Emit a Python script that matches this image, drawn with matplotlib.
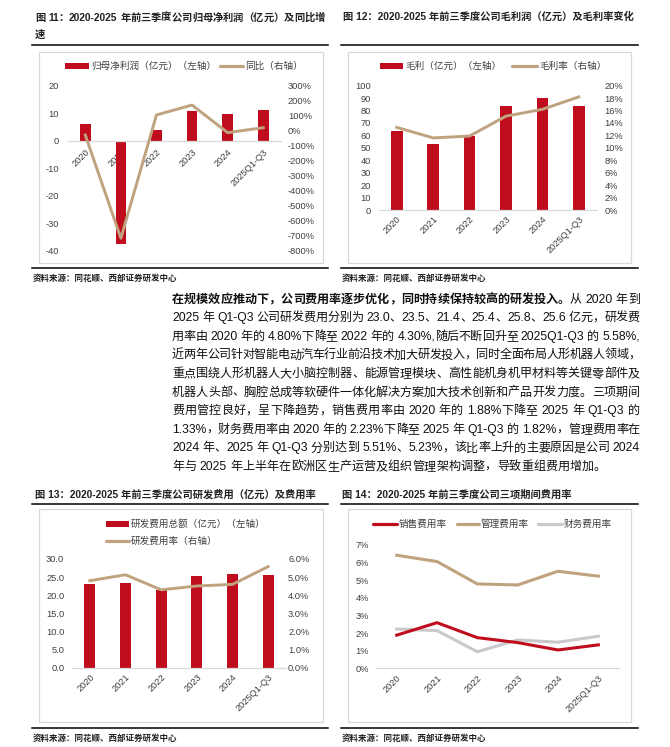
import matplotlib
matplotlib.use("Agg")
import matplotlib.pyplot as plt
from matplotlib.patches import Rectangle

W, H = 670, 747
RED = "#C00D1E"
TAN = "#BFA27E"
LIGHT = "#C9C9C9"
AXIS_GRAY = "#D9D9D9"
TXT = "#404040"
FAM = ["Liberation Sans", "Noto Sans CJK SC"]
TICK_FS = 6.7
LEG_FS = 6.9
TITLE_FS = 7.4

plt.rcParams["font.family"] = FAM

# ---- data ----
years = ["2020", "2021", "2022", "2023", "2024", "2025Q1-Q3"]

net_profit = [6.1, -37.6, 3.9, 10.7, 9.6, 11.0]          # 亿元
net_profit_yoy = [-29, -717, 105, 171, -13, 20]           # %

gross_profit = [63.6, 52.8, 59.3, 83.7, 90.4, 83.7]       # 亿元
gross_margin = [13.3, 11.6, 11.9, 15.1, 16.2, 18.2]       # %

rd_expense = [23.0, 23.5, 21.4, 25.4, 25.8, 25.6]         # 亿元
rd_rate = [4.80, 5.13, 4.30, 4.51, 4.60, 5.58]            # %

sales_rate = [1.88, 2.59, 1.74, 1.46, 1.04, 1.33]         # %
admin_rate = [6.42, 6.06, 4.79, 4.73, 5.51, 5.23]         # %
finance_rate = [2.23, 2.14, 0.94, 1.61, 1.48, 1.82]       # %

PARAGRAPH = [
    [("在规模效应推动下，公司费用率逐步优化，同时持续保持较高的研发投入。", "bold"),
     ("从 2020 年到", "normal")],
    [("2025 年 Q1-Q3 公司研发费用分别为 23.0、23.5、21.4、25.4、25.8、25.6 亿元，研发费", "normal")],
    [("用率由 2020 年的 4.80%下降至 2022 年的 4.30%,随后不断回升至 2025Q1-Q3 的 5.58%,", "normal")],
    [("近两年公司针对智能电动汽车行业前沿技术加大研发投入，同时全面布局人形机器人领域，", "normal")],
    [("重点围绕人形机器人大小脑控制器、能源管理模块、高性能机身机甲材料等关键零部件及", "normal")],
    [("机器人头部、胸腔总成等软硬件一体化解决方案加大技术创新和产品开发力度。三项期间", "normal")],
    [("费用管控良好，呈下降趋势，销售费用率由 2020 年的 1.88%下降至 2025 年 Q1-Q3 的", "normal")],
    [("1.33%，财务费用率由 2020 年的 2.23%下降至 2025 年 Q1-Q3 的 1.82%，管理费用率在", "normal")],
    [("2024 年、2025 年 Q1-Q3 分别达到 5.51%、5.23%，该比率上升的主要原因是公司 2024", "normal")],
    [("年与 2025 年上半年在欧洲区生产运营及组织管理架构调整，导致重组费用增加。", "normal")],
]

SOURCE = "资料来源：同花顺、西部证券研发中心"

fig = plt.figure(figsize=(6.7, 7.47), dpi=100)
fig.patch.set_facecolor("white")
page = fig.add_axes([0, 0, 1, 1])
page.set_xlim(0, W)
page.set_ylim(H, 0)
page.axis("off")
renderer = fig.canvas.get_renderer()


def frac(x0, y0, x1, y1):
    return [x0 / W, 1 - y1 / H, (x1 - x0) / W, (y1 - y0) / H]


def tokenize(segments):
    toks = []
    for text, weight in segments:
        run = ""
        for ch in text:
            if ch == " ":
                if run:
                    toks.append((run, weight))
                    run = ""
                toks.append((" ", weight))
            elif ord(ch) < 128:
                run += ch
            else:
                if run:
                    toks.append((run, weight))
                    run = ""
                toks.append((ch, weight))
        if run:
            toks.append((run, weight))
    return toks


def draw_line(segments, x0, x1, y, fs, color="#111111", justify=True):
    """Draw one line of mixed text, stretched to fill x0..x1 (baseline at y)."""
    toks = tokenize(segments)
    space_w = 0.278 * fs * 100 / 72
    widths = []
    for tok, weight in toks:
        if tok == " ":
            widths.append(space_w)
            continue
        t = page.text(0, 0, tok, fontsize=fs, fontweight=weight)
        widths.append(t.get_window_extent(renderer).width)
        t.remove()
    gap = 0.0
    if justify and len(toks) > 1:
        gap = ((x1 - x0) - sum(widths)) / (len(toks) - 1)
    x = x0
    for (tok, weight), w in zip(toks, widths):
        if tok != " ":
            page.text(x, y, tok, fontsize=fs, fontweight=weight,
                      color=color, ha="left", va="baseline")
        x += w + gap


def frame(x0, x1, rule_top, box, rule_bottom, titles, title_x, title_y, title_x1=None):
    for i, t in enumerate(titles):
        if i == 0 and title_x1 is not None:
            draw_line([(t, "bold")], title_x, title_x1, title_y + 3.7, TITLE_FS, color="#222222")
        else:
            page.text(title_x, title_y + i * 18, t, fontsize=TITLE_FS, fontweight="bold",
                      color="#222222", ha="left", va="center")
    page.plot([x0, x1], [rule_top, rule_top], color="black", lw=1.1)
    page.plot([x0, x1], [rule_bottom, rule_bottom], color="black", lw=1.1)
    bx0, by0, bx1, by1 = box
    page.add_patch(Rectangle((bx0, by0), bx1 - bx0, by1 - by0, fill=False,
                             edgecolor=AXIS_GRAY, lw=0.9))
    page.text(x0 + 1, rule_bottom + 11, SOURCE, fontsize=6.1, fontweight="bold",
              color="#222222", ha="left", va="center")


def leg_patch(x0, x1, y, label):
    page.add_patch(Rectangle((x0, y - 3.2), x1 - x0, 6.4, color=RED, lw=0))
    page.text(x1 + 2, y, label, fontsize=LEG_FS, color=TXT, ha="left", va="center")


def leg_line(x0, x1, y, color, label):
    page.plot([x0, x1], [y, y], color=color, lw=2.3, solid_capstyle="round")
    page.text(x1 + 2, y, label, fontsize=LEG_FS, color=TXT, ha="left", va="center")


def chart_axes(x0, y0, x1, y1):
    ax = fig.add_axes(frac(x0, y0, x1, y1))
    ax.patch.set_alpha(0)
    for sp in ax.spines.values():
        sp.set_visible(False)
    return ax


def style_x(ax, pad):
    ax.set_xlim(-0.5, 5.5)
    ax.set_xticks(range(len(years)))
    ax.set_xticklabels(years, rotation=45, ha="right", rotation_mode="anchor",
                       fontsize=TICK_FS, color=TXT)
    ax.tick_params(axis="x", length=0, pad=pad)
    ax.spines["bottom"].set_visible(True)
    ax.spines["bottom"].set_color(AXIS_GRAY)
    ax.spines["bottom"].set_linewidth(0.9)


def style_y(ax, ticks, labels, pad, right=False):
    ax.set_yticks(ticks)
    ax.set_yticklabels(labels, fontsize=TICK_FS, color=TXT)
    ax.tick_params(axis="y", length=0, pad=pad)
    if right:
        for sp in ax.spines.values():
            sp.set_visible(False)


# ---------------- chart 11 ----------------
frame(32, 328, 45, (39, 52, 323, 263), 268,
      ["图 11：2020-2025 年前三季度公司归母净利润（亿元）及同比增", "速"], 35, 17, title_x1=325)
leg_patch(65, 89, 66, "归母净利润（亿元）（左轴）")
leg_line(220, 243, 66, TAN, "同比（右轴）")

ax = chart_axes(67.5, 85.7, 281, 250.7)
ax.spines["bottom"].set_position(("data", 0))
ax.bar(range(6), net_profit, width=0.3, color=RED, zorder=2)
ax.set_ylim(-40, 20)
style_x(ax, 5)
style_y(ax, range(-40, 21, 10), [str(v) for v in range(-40, 21, 10)], 6)
ax2 = ax.twinx()
ax2.patch.set_alpha(0)
ax2.plot(range(6), net_profit_yoy, color=TAN, lw=2.1, solid_joinstyle="round")
ax2.set_ylim(-800, 300)
style_y(ax2, range(-800, 301, 100), [f"{v}%" for v in range(-800, 301, 100)], 5, right=True)

# ---------------- chart 12 ----------------
frame(341, 638, 45, (348, 52, 631, 263), 268,
      ["图 12：2020-2025 年前三季度公司毛利润（亿元）及毛利率变化"], 343, 17)
leg_patch(380, 403, 66, "毛利（亿元）（左轴）")
leg_line(512, 537, 66, TAN, "毛利率（右轴）")

ax = chart_axes(378.5, 85.7, 597, 210)
ax.bar(range(6), gross_profit, width=0.32, color=RED, zorder=2)
ax.set_ylim(0, 100)
style_x(ax, 3.5)
style_y(ax, range(0, 101, 10), [str(v) for v in range(0, 101, 10)], 5.5)
ax2 = ax.twinx()
ax2.patch.set_alpha(0)
ax2.plot(range(6), gross_margin, color=TAN, lw=2.1, solid_joinstyle="round")
ax2.set_ylim(0, 20)
style_y(ax2, range(0, 21, 2), [f"{v}%" for v in range(0, 21, 2)], 5.5, right=True)

# ---------------- text ----------------
PARA_FS = 8.7
for i, segs in enumerate(PARAGRAPH):
    yb = 298.3 + 18.6 * i + 4.3
    draw_line(segs, 172, 640, yb, PARA_FS, justify=(i < len(PARAGRAPH) - 1))

# ---------------- chart 13 ----------------
frame(32, 328, 503.5, (39, 509, 323, 722), 728,
      ["图 13：2020-2025 年前三季度公司研发费用（亿元）及费用率"], 35, 495)
leg_patch(106, 129, 524, "研发费用总额（亿元）（左轴）")
leg_line(106, 129, 541, TAN, "研发费用率（右轴）")

ax = chart_axes(72, 559, 286, 667.7)
ax.bar(range(6), rd_expense, width=0.31, color=RED, zorder=2)
ax.set_ylim(0, 30)
style_x(ax, 3.5)
style_y(ax, [0, 5, 10, 15, 20, 25, 30], [f"{v:.1f}" for v in [0, 5, 10, 15, 20, 25, 30]], 5.5)
ax2 = ax.twinx()
ax2.patch.set_alpha(0)
ax2.plot(range(6), rd_rate, color=TAN, lw=2.1, solid_joinstyle="round")
ax2.set_ylim(0, 6)
style_y(ax2, range(0, 7), [f"{v:.1f}%" for v in range(0, 7)], 1.5, right=True)

# ---------------- chart 14 ----------------
frame(341, 638, 503.5, (348, 509, 631, 722), 728,
      ["图 14：2020-2025 年前三季度公司三项期间费用率"], 342, 495)
leg_line(373, 397, 524, RED, "销售费用率")
leg_line(457, 479, 524, TAN, "管理费用率")
leg_line(538, 562, 524, LIGHT, "财务费用率")

ax = chart_axes(376.5, 545, 618.5, 668.3)
ax.plot(range(6), sales_rate, color=RED, lw=2.2, solid_joinstyle="round", zorder=3)
ax.plot(range(6), admin_rate, color=TAN, lw=2.2, solid_joinstyle="round", zorder=2)
ax.plot(range(6), finance_rate, color=LIGHT, lw=2.2, solid_joinstyle="round", zorder=1)
ax.set_ylim(0, 7)
style_x(ax, 3.5)
style_y(ax, range(0, 8), [f"{v}%" for v in range(0, 8)], 5.5)

fig.savefig("out.png", dpi=100, facecolor="white")
